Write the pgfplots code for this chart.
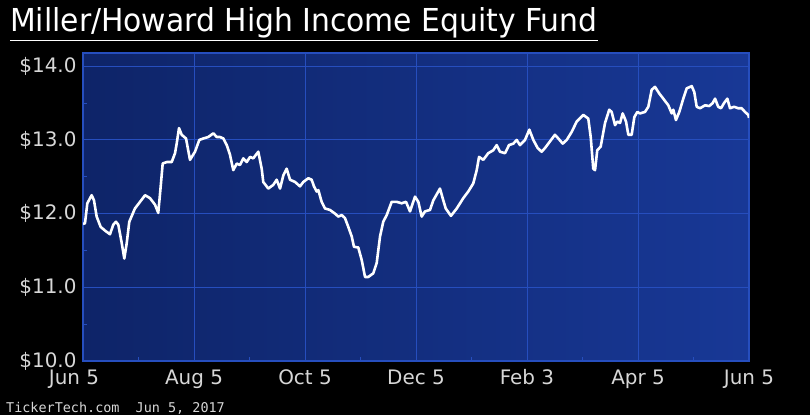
\documentclass[border=0pt]{standalone}
\usepackage{fontspec}
\setmainfont{DejaVu Sans}
\newfontfamily\condfont{DejaVu Sans Condensed}
\newfontfamily\footfont{DejaVu Sans Mono}
\usepackage{pgfplots}
\pgfplotsset{compat=1.18}
\definecolor{gridblue}{RGB}{38,78,190}
\definecolor{bgdark}{RGB}{14,36,104}
\definecolor{bglight}{RGB}{24,56,150}
\definecolor{labgray}{RGB}{215,215,215}
\begin{document}
\begin{tikzpicture}
\fill[black] (0,0) rectangle (810bp,415bp);
\useasboundingbox (0,0) rectangle (810bp,415bp);
\node[anchor=base west, inner sep=0pt, text=white] at (10bp,383bp)
  {\resizebox{587bp}{24bp}{\condfont\fontsize{30}{30}\selectfont Miller/Howard High Income Equity Fund}};
\draw[white, line width=1.6bp] (10bp,374.5bp) -- (598bp,374.5bp);
\node[anchor=base west, inner sep=0pt, text=labgray] at (6bp,3bp)
  {\footfont\fontsize{13.5}{13.5}\selectfont TickerTech.com\ \ Jun 5, 2017};
\begin{axis}[
  at={(83bp,54bp)}, anchor=south west,
  scale only axis, width=666bp, height=308bp,
  xmin=0, xmax=6, ymin=10, ymax=14.18,
  xtick={0,1,2,3,4,5,6},
  xticklabels={\hspace*{-18bp}Jun 5, Aug 5, Oct 5, Dec 5, Feb 3, Apr 5, Jun 5},
  ytick={10,11,12,13,14},
  yticklabels={\$10.0,\$11.0,\$12.0,\$13.0,\$14.0},
  minor x tick num=1, minor y tick num=1,
  xtick pos=bottom, ytick pos=left,
  tick align=inside,
  major tick length=0pt, minor tick length=4bp,
  tick style={gridblue, line width=1bp},
  grid=major,
  major grid style={gridblue, line width=1bp},
  axis line style={gridblue, line width=1.2bp},
  axis background/.style={left color=bgdark, right color=bglight},
  tick label style={text=labgray, font=\fontsize{20}{20}\selectfont},
  yticklabel style={xshift=-3bp},
  xticklabel style={yshift=-5bp},
]
\addplot[white, line width=2.6bp, line join=round] coordinates {
(0.000,11.86) (0.018,11.87) (0.039,12.14) (0.078,12.25) (0.099,12.18)
(0.123,11.96) (0.159,11.82) (0.198,11.77) (0.243,11.72) (0.273,11.85)
(0.297,11.89) (0.318,11.85) (0.349,11.60) (0.372,11.39) (0.394,11.60)
(0.417,11.89) (0.468,12.07) (0.514,12.16) (0.559,12.25) (0.604,12.21)
(0.649,12.12) (0.678,12.01) (0.700,12.37) (0.718,12.68) (0.754,12.70)
(0.799,12.70) (0.829,12.82) (0.844,12.95) (0.865,13.16) (0.889,13.07)
(0.928,13.02) (0.964,12.73) (1.009,12.84) (1.048,13.00) (1.084,13.02)
(1.129,13.04) (1.174,13.09) (1.205,13.04) (1.234,13.04) (1.264,13.02)
(1.295,12.93) (1.324,12.80) (1.354,12.59) (1.385,12.68) (1.414,12.66)
(1.444,12.75) (1.475,12.70) (1.505,12.77) (1.534,12.75) (1.579,12.84)
(1.610,12.61) (1.624,12.43) (1.669,12.34) (1.714,12.39) (1.745,12.46)
(1.775,12.34) (1.805,12.52) (1.835,12.61) (1.865,12.46) (1.910,12.43)
(1.955,12.37) (1.985,12.43) (2.030,12.48) (2.060,12.46) (2.081,12.37)
(2.105,12.30) (2.120,12.32) (2.150,12.16) (2.180,12.07) (2.225,12.05)
(2.270,12.00) (2.300,11.96) (2.331,11.98) (2.360,11.94) (2.390,11.82)
(2.421,11.69) (2.441,11.55) (2.480,11.54) (2.511,11.37) (2.541,11.14)
(2.570,11.14) (2.615,11.19) (2.646,11.33) (2.676,11.69) (2.705,11.89)
(2.736,11.98) (2.781,12.16) (2.826,12.16) (2.871,12.14) (2.910,12.16)
(2.946,12.03) (2.991,12.23) (3.021,12.16) (3.051,11.96) (3.081,12.03)
(3.126,12.05) (3.156,12.18) (3.216,12.34) (3.246,12.18) (3.268,12.07)
(3.315,11.97) (3.367,12.07) (3.426,12.21) (3.471,12.30) (3.516,12.41)
(3.547,12.59) (3.568,12.77) (3.606,12.73) (3.651,12.82) (3.696,12.86)
(3.727,12.93) (3.757,12.84) (3.802,12.82) (3.838,12.93) (3.877,12.95)
(3.907,13.00) (3.937,12.93) (3.982,13.00) (4.021,13.14) (4.057,13.00)
(4.096,12.89) (4.132,12.84) (4.162,12.89) (4.207,12.98) (4.252,13.07)
(4.282,13.02) (4.322,12.95) (4.358,13.00) (4.403,13.11) (4.448,13.25)
(4.507,13.34) (4.552,13.29) (4.574,13.04) (4.597,12.61) (4.613,12.59)
(4.633,12.86) (4.664,12.91) (4.703,13.23) (4.741,13.41) (4.763,13.38)
(4.793,13.20) (4.814,13.25) (4.838,13.23) (4.862,13.36) (4.892,13.25)
(4.913,13.07) (4.943,13.07) (4.967,13.31) (4.994,13.38) (5.018,13.36)
(5.063,13.38) (5.093,13.45) (5.123,13.68) (5.153,13.72) (5.192,13.63)
(5.228,13.56) (5.273,13.47) (5.304,13.36) (5.318,13.41) (5.342,13.27)
(5.372,13.38) (5.408,13.56) (5.439,13.70) (5.484,13.73) (5.507,13.65)
(5.529,13.45) (5.559,13.43) (5.604,13.47) (5.642,13.46) (5.673,13.50)
(5.694,13.56) (5.723,13.45) (5.748,13.43) (5.775,13.50) (5.805,13.56)
(5.829,13.43) (5.865,13.45) (5.904,13.43) (5.934,13.43) (5.964,13.38)
(5.994,13.34) (6.000,13.30)
};
\end{axis}
\end{tikzpicture}
\end{document}
